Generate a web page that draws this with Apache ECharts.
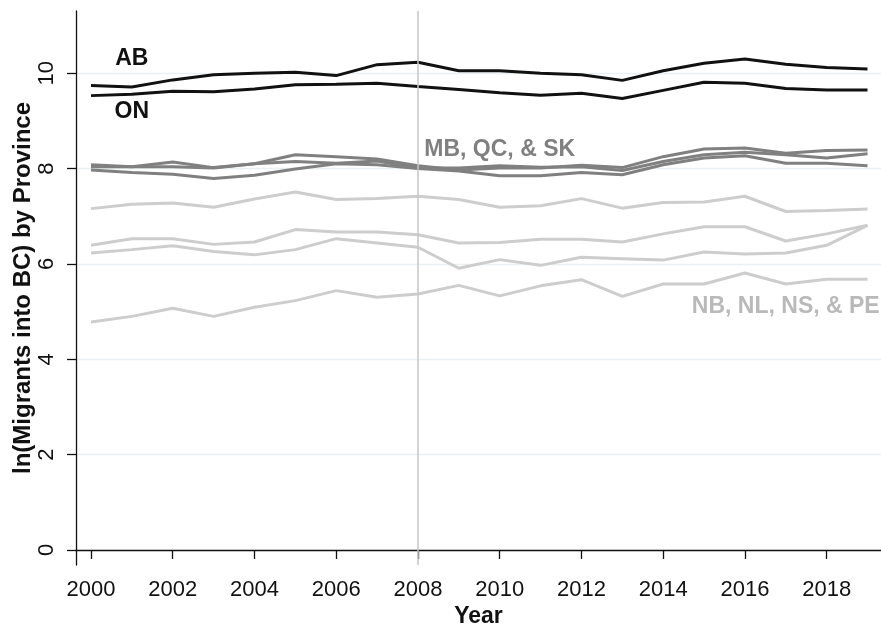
<!DOCTYPE html>
<html>
<head>
<meta charset="utf-8">
<script src="https://cdn.jsdelivr.net/npm/echarts@6/dist/echarts.min.js"></script>
<style>
    html, body { margin: 0; padding: 0; background: #fff; }
    #chart { width: 881px; height: 624px; }
</style>
</head>
<body>
<div id="chart"></div>
<script>
// years on the x axis
var years = [2000, 2001, 2002, 2003, 2004, 2005, 2006, 2007, 2008, 2009,
             2010, 2011, 2012, 2013, 2014, 2015, 2016, 2017, 2018, 2019];

// ln(migrants into BC) by origin province
var ab = [9.74, 9.71, 9.86, 9.97, 10.00, 10.02, 9.95, 10.18, 10.23, 10.05,
          10.05, 10.00, 9.97, 9.85, 10.05, 10.21, 10.30, 10.19, 10.12, 10.09];
var on = [9.53, 9.56, 9.62, 9.61, 9.67, 9.76, 9.77, 9.79, 9.72, 9.66,
          9.59, 9.54, 9.58, 9.47, 9.64, 9.81, 9.79, 9.68, 9.65, 9.65];

// MB, QC & SK
var midA = [8.08, 8.04, 8.14, 8.02, 8.10, 8.29, 8.25, 8.20, 8.06, 7.97,
            8.01, 8.01, 8.07, 8.02, 8.25, 8.41, 8.43, 8.32, 8.38, 8.39];
var midB = [8.04, 8.04, 8.04, 8.01, 8.10, 8.15, 8.11, 8.16, 8.01, 8.01,
            8.06, 8.03, 8.04, 7.96, 8.15, 8.29, 8.34, 8.29, 8.22, 8.31];
var midC = [7.97, 7.92, 7.88, 7.79, 7.86, 7.99, 8.10, 8.08, 8.00, 7.95,
            7.85, 7.85, 7.92, 7.87, 8.08, 8.22, 8.27, 8.11, 8.11, 8.06];

// NB, NL, NS & PE
var lowA = [7.16, 7.25, 7.28, 7.19, 7.36, 7.51, 7.35, 7.37, 7.42, 7.35,
            7.19, 7.22, 7.37, 7.17, 7.29, 7.30, 7.42, 7.10, 7.12, 7.15];
var lowB = [6.39, 6.53, 6.53, 6.41, 6.46, 6.72, 6.67, 6.67, 6.61, 6.44,
            6.45, 6.52, 6.52, 6.46, 6.63, 6.78, 6.78, 6.48, 6.63, 6.81];
var lowC = [6.23, 6.30, 6.38, 6.26, 6.19, 6.30, 6.53, 6.44, 6.35, 5.91,
            6.09, 5.97, 6.14, 6.11, 6.08, 6.25, 6.21, 6.23, 6.39, 6.81];
var lowD = [4.78, 4.90, 5.07, 4.90, 5.09, 5.23, 5.44, 5.30, 5.37, 5.55,
            5.33, 5.54, 5.67, 5.32, 5.58, 5.58, 5.81, 5.58, 5.68, 5.68];

var xTicks = [2000, 2002, 2004, 2006, 2008, 2010, 2012, 2014, 2016, 2018];
var yTicks = [0, 2, 4, 6, 8, 10];

// text labels placed in data units: [year, value, text]
var notes = [[2001, 10.3, "AB"], [2001, 9.2, "ON"], [2010, 8.4, "MB, QC, & SK"], [2017, 5.1, "NB, NL, NS, & PE"]];
var noteColors = ["#111111", "#111111", "#808080", "#b9b9b9"];

var xMin = 1999.633, xMax = 2019.33;
var yMin = -0.315, yMax = 11.305;

var font = "Liberation Sans, Arial, Helvetica, sans-serif";

function pairs(vals) {
    return years.map(function (y, i) { return [y, vals[i]]; });
}

function line(vals, color) {
    return {
        type: "line",
        data: pairs(vals),
        showSymbol: false,
        silent: true,
        lineStyle: { color: color, width: 3 },
        itemStyle: { color: color }
    };
}

var chart = echarts.init(document.getElementById("chart"));

var series = [
    line(lowA, "#cdcdcd"), line(lowB, "#cdcdcd"), line(lowC, "#cdcdcd"), line(lowD, "#cdcdcd"),
    line(midA, "#808080"), line(midB, "#808080"), line(midC, "#808080"),
    line(ab, "#111111"), line(on, "#111111")
];
series[0].markLine = {
    symbol: "none",
    silent: true,
    label: { show: false },
    lineStyle: { color: "#c6c6c6", width: 1.5, type: "solid" },
    data: [{ xAxis: 2008 }]
};
// province annotations
series.push({
    type: "scatter",
    symbolSize: 0,
    silent: true,
    clip: false,
    itemStyle: { color: "transparent", opacity: 1 },
    data: notes.map(function (n, i) {
        return { value: n, label: { color: noteColors[i] } };
    }),
    label: {
        show: true,
        position: "inside",
        textBorderWidth: 0,
        formatter: function (p) { return p.value[2]; },
        fontFamily: font,
        fontWeight: "bold",
        fontSize: 23
    }
});
// rotated y tick labels (Stata style, reading upward)
series.push({
    type: "scatter",
    symbolSize: 0,
    silent: true,
    clip: false,
    itemStyle: { color: "transparent", opacity: 1 },
    data: yTicks.map(function (v) { return [xMin, v]; }),
    label: {
        show: true,
        position: "left",
        distance: 18,
        rotate: 90,
        align: "center",
        verticalAlign: "bottom",
        color: "#111",
        fontFamily: font,
        fontSize: 22,
        formatter: function (p) { return String(p.value[1]); }
    }
});

chart.setOption({
    animation: false,
    backgroundColor: "#ffffff",
    grid: { left: 76, right: 0, top: 11, bottom: 59, outerBoundsMode: "none", containLabel: false },
    xAxis: {
        type: "value",
        min: xMin,
        max: xMax,
        name: "Year",
        nameLocation: "middle",
        nameGap: 40,
        nameMoveOverlap: false,
        nameTextStyle: { fontFamily: font, fontWeight: "bold", fontSize: 23, color: "#111" },
        axisLine: { lineStyle: { color: "#111", width: 1.3 } },
        axisTick: { show: true, length: 9, customValues: xTicks, lineStyle: { color: "#111", width: 1.3 } },
        axisLabel: {
            customValues: xTicks, margin: 14, fontFamily: font, fontSize: 22, color: "#111",
            formatter: function (v) { return String(v); }
        },
        splitLine: { show: false }
    },
    yAxis: {
        type: "value",
        min: yMin,
        max: yMax,
        name: "ln(Migrants into BC) by Province",
        nameLocation: "middle",
        nameRotate: 90,
        nameGap: 41,
        nameMoveOverlap: false,
        nameTextStyle: { fontFamily: font, fontWeight: "bold", fontSize: 24, color: "#111" },
        axisLine: { show: true, lineStyle: { color: "#111", width: 1.3 } },
        axisTick: { show: true, length: 9, customValues: yTicks, lineStyle: { color: "#111", width: 1.3 } },
        axisLabel: { show: false },
        splitLine: { show: true, lineStyle: { color: "#eaf0f2", width: 1.3 } }
    },
    series: series
});
</script>
</body>
</html>
